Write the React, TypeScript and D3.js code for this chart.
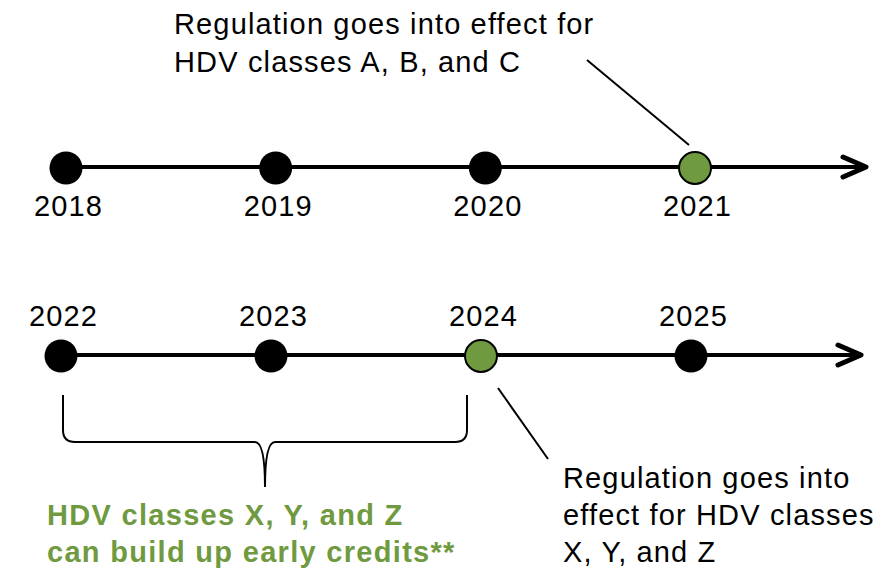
import { scaleLinear } from 'd3'

// top row of the timeline
const topYears = [2018, 2019, 2020, 2021]
const topHighlight = [false, false, false, true]
// bottom row
const bottomYears = [2022, 2023, 2024, 2025]
const bottomHighlight = [false, false, true, false]

const topNote = ['Regulation goes into effect for', 'HDV classes A, B, and C']
const bottomNote = ['Regulation goes into', 'effect for HDV classes', 'X, Y, and Z']
const braceNote = ['HDV classes X, Y, and Z', 'can build up early credits**']

const width = 892
const height = 570
const green = '#6F9A3F'
const font = '"Liberation Sans", Arial, Helvetica, sans-serif'
const fs = 29
const ls = 1.15

function Arrow({ x1, x2, y }: { x1: number; x2: number; y: number }) {
  return (
    <g stroke="#000" fill="none">
      <line x1={x1} x2={x2 - 2} y1={y} y2={y} strokeWidth={4} />
      <polyline
        points={`${x2 - 23},${y - 10} ${x2},${y} ${x2 - 23},${y + 10}`}
        strokeWidth={5}
        strokeLinecap="round"
        strokeLinejoin="round"
      />
    </g>
  )
}

function Row({
  years,
  highlight,
  x,
  y,
  labelY,
  arrowEnd,
}: {
  years: number[]
  highlight: boolean[]
  x: (v: number) => number
  y: number
  labelY: number
  arrowEnd: number
}) {
  return (
    <g>
      <Arrow x1={x(years[0])} x2={arrowEnd} y={y} />
      {years.map((yr, i) => (
        <g key={yr}>
          <circle
            cx={x(yr)}
            cy={y + 1}
            r={highlight[i] ? 16 : 16.5}
            fill={highlight[i] ? green : '#000'}
            stroke="#000"
            strokeWidth={highlight[i] ? 2 : 0}
          />
          <text
            x={x(yr) + 2 + ls / 2}
            y={labelY}
            textAnchor="middle"
            fontSize={fs}
            letterSpacing={ls}
            fontFamily={font}
            fill="#000"
          >
            {yr}
          </text>
        </g>
      ))}
    </g>
  )
}

export default function App() {
  const topY = 167
  const bottomY = 355

  const xTop = scaleLinear().domain([topYears[0], topYears[3]]).range([66, 695])
  const xBottom = scaleLinear().domain([bottomYears[0], bottomYears[3]]).range([61, 691])

  // annotation anchors relative to the highlighted points
  const topPt = xTop(2021)
  const botPt = xBottom(2024)

  const bl = xBottom(2022) + 2
  const br = xBottom(2024) - 14
  const mid = (bl + br) / 2
  const braceTop = 395
  const braceY = 442
  const braceTip = 487
  const bracePath = [
    `M${bl},${braceTop}`,
    `L${bl},${braceY - 12}`,
    `Q${bl},${braceY} ${bl + 12},${braceY}`,
    `L${mid - 10},${braceY}`,
    `Q${mid},${braceY} ${mid},${braceTip}`,
    `Q${mid},${braceY} ${mid + 10},${braceY}`,
    `L${br - 12},${braceY}`,
    `Q${br},${braceY} ${br},${braceY - 12}`,
    `L${br},${braceTop}`,
  ].join(' ')

  return (
    <svg
      width={width}
      height={height}
      style={{ position: 'fixed', left: 0, top: 0, background: '#fff' }}
    >
      {/* top annotation */}
      <g fontFamily={font} fontSize={fs} letterSpacing={ls} fill="#000">
        {topNote.map((t, i) => (
          <text key={t} x={174} y={34 + i * 38}>
            {t}
          </text>
        ))}
      </g>
      <line x1={topPt - 108} y1={60} x2={topPt - 6} y2={145} stroke="#000" strokeWidth={2} />

      <Row years={topYears} highlight={topHighlight} x={xTop} y={topY} labelY={216} arrowEnd={866} />
      <Row years={bottomYears} highlight={bottomHighlight} x={xBottom} y={bottomY} labelY={326} arrowEnd={861} />

      {/* bottom annotation */}
      <line x1={botPt + 17} y1={388} x2={botPt + 67} y2={459} stroke="#000" strokeWidth={2} />
      <g fontFamily={font} fontSize={fs} letterSpacing={ls} fill="#000">
        {bottomNote.map((t, i) => (
          <text key={t} x={563} y={488 + i * 37}>
            {t}
          </text>
        ))}
      </g>

      {/* brace */}
      <path d={bracePath} fill="none" stroke="#000" strokeWidth={2} />
      <g fontFamily={font} fontSize={fs} letterSpacing={1.3} fontWeight="bold" fill={green}>
        {braceNote.map((t, i) => (
          <text key={t} x={47} y={525 + i * 37}>
            {t}
          </text>
        ))}
      </g>
    </svg>
  )
}
